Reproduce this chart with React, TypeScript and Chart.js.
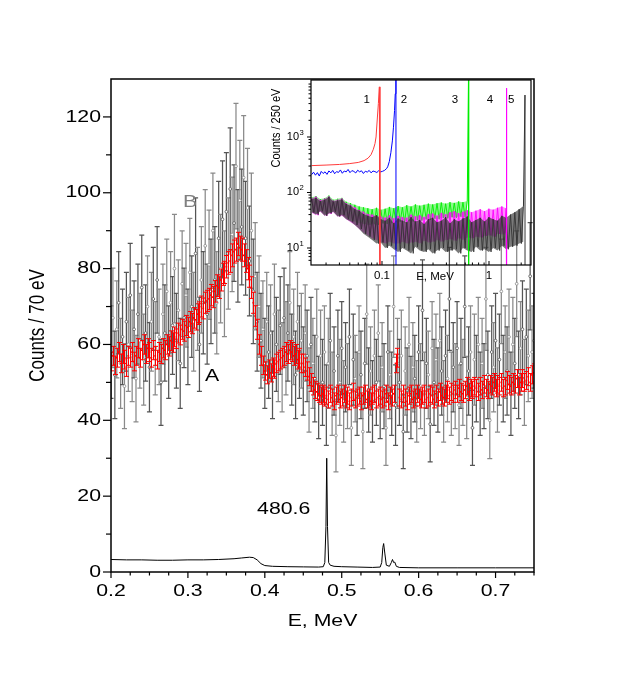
import React, { useEffect, useRef } from "react";
import { Chart, registerables } from "chart.js";

Chart.register(...registerables);

const W = 621;
const H = 687;
const FONT = '"Liberation Sans", Arial, Helvetica, sans-serif';
const SX = 1.25;

// ---------------- main plot data ----------------
const E_START = 0.2;
const E_STEP = 0.0025;

// series B (grey, open circles)
const B_COUNTS = [
  58, 67, 52, 64, 71, 55, 62, 49, 66, 60,
  73, 57, 64, 51, 68, 61, 75, 56, 63, 70,
  54, 66, 72, 59, 77, 62, 50, 68, 63, 74,
  58, 71, 65, 80, 61, 69, 55, 76, 67, 73,
  62, 79, 70, 66, 84, 72, 60, 77, 71, 86,
  68, 81, 74, 90, 77, 71, 88, 80, 93, 76,
  95, 84, 101, 89, 92, 107, 86, 98, 91, 104,
  88, 96, 82, 90, 74, 78, 66, 70, 61, 64,
  55, 66, 58, 63, 52, 68, 60, 57, 65, 54,
  67, 59, 63, 71, 56, 62, 52, 66, 58, 61,
  53, 63, 57, 48, 60, 55, 51, 62, 46, 57,
  50, 58, 44, 55, 61, 47, 53, 36, 57, 50,
  59, 45, 54, 49, 62, 38, 56, 51, 47, 58,
  52, 37, 55, 68, 48, 53, 45, 57, 50, 63,
  46, 54, 49, 38, 58, 52, 47, 70, 44, 55,
  50, 57, 37, 53, 48, 60, 46, 54, 51, 45,
  58, 49, 69, 47, 55, 52, 39, 59, 50, 56,
  48, 61, 53, 45, 57, 51, 72, 47, 54, 49,
  59, 44, 55, 50, 70, 46, 53, 58, 38, 56,
  51, 60, 47, 55, 49, 72, 52, 40, 58, 54,
  61, 48, 56, 74, 51, 58, 53, 62, 47, 60,
  55, 76, 52, 59, 64, 50, 62, 57, 78, 58,
  61,
];

// series A (red)
const A_COUNTS = [
  55.5, 57, 54.5, 56.5, 58, 55, 57.5, 56, 54, 57,
  56.5, 58, 55.5, 57, 59, 56.5, 58.5, 60, 57.5, 59,
  58, 56.5, 58.5, 57, 56, 58, 57.5, 59, 58.5, 60,
  59.5, 61, 60.5, 62, 61.5, 63, 62.5, 64, 63.5, 65,
  64.5, 66, 65.5, 67, 66.5, 68, 68.5, 70, 69.5, 71,
  71.5, 72, 73, 72.5, 74, 75.5, 75, 77, 78.5, 79,
  80.5, 81.5, 82, 83.5, 84.5, 85, 86.5, 85.5, 85, 83.5,
  82, 80, 78, 75, 71, 67.5, 64, 60, 57, 54.5,
  53, 52, 53.5, 52.5, 54, 53.5, 55, 55.5, 56, 56.5,
  57, 58, 57.5, 58.5, 58, 57, 57.5, 56, 56.5, 55,
  55, 54, 53, 51.5, 50, 49, 48, 47.5, 47, 46.5,
  47, 46, 46.5, 45.5, 47, 46, 45, 46.5, 47, 45.5,
  46, 47, 45.5, 46.5, 45, 46, 47.5, 45.5, 46, 46.5,
  45, 46.5, 47, 45.5, 46, 45, 46.5, 47, 45.5, 46,
  46.5, 45.5, 46, 47, 45, 46.5, 46, 47, 55, 56.5,
  46, 45.5, 47, 46, 45, 46.5, 47, 45.5, 46, 47,
  46, 45.5, 46.5, 47, 45.5, 46, 47, 46.5, 45.5, 47,
  46, 47.5, 46.5, 46, 47, 48, 46.5, 47.5, 47, 48,
  47, 48.5, 47.5, 47, 48, 49, 47.5, 48.5, 48, 49,
  48.5, 47.5, 49, 48, 49.5, 48.5, 48, 49.5, 49, 50,
  48.5, 49.5, 49, 50, 48.5, 49, 50.5, 49.5, 49, 50,
  49.5, 51, 49, 50, 51, 50, 50.5, 51.5, 50, 52,
  52.5,
];

const B_ERR_SCALE = 1.6;
const A_ERR_SCALE = 0.33;

// reference (480.6 keV) spectrum, black line
const REF_E = [
  0.2, 0.22, 0.24, 0.26, 0.28, 0.3, 0.32, 0.34, 0.36, 0.37, 0.38, 0.385, 0.39, 0.395,
  0.4, 0.41, 0.43, 0.45, 0.47, 0.476, 0.478, 0.4795, 0.4805, 0.4815, 0.483, 0.485,
  0.49, 0.5, 0.52, 0.54, 0.55, 0.552, 0.5535, 0.5545, 0.556, 0.558, 0.562, 0.5645,
  0.566, 0.5675, 0.569, 0.571, 0.575, 0.6, 0.65, 0.7, 0.75,
];
const REF_Y = [
  3.3, 3.2, 3.2, 3.1, 3.1, 3.2, 3.2, 3.3, 3.5, 3.7, 3.9, 3.8, 3.2, 2.2,
  1.7, 1.5, 1.4, 1.35, 1.3, 1.4, 2.5, 12, 30, 12, 2.5, 1.8,
  1.5, 1.4, 1.3, 1.2, 1.3, 2.5, 6.5, 7.5, 5, 1.8, 1.5, 2.5,
  3.3, 2.5, 2.6, 1.5, 1.2, 1.1, 1.1, 1.1, 1.1,
];

const X_MAJOR = [0.2, 0.3, 0.4, 0.5, 0.6, 0.7];
const X_LABELS = ["0.2", "0.3", "0.4", "0.5", "0.6", "0.7"];
const X_MINOR = [0.225, 0.25, 0.275, 0.325, 0.35, 0.375, 0.425, 0.45, 0.475, 0.525, 0.55, 0.575, 0.625, 0.65, 0.675, 0.725, 0.75];
const Y_MAJOR = [0, 20, 40, 60, 80, 100, 120];
const Y_LABELS = ["0", "20", "40", "60", "80", "100", "120"];
const Y_MINOR = [10, 30, 50, 70, 90, 110];

const B_DARK = "#555555";
const B_LIGHT = "#8a8a8a";
const A_COLOR = "#ff0000";

// ---------------- inset data ----------------
const INSET_X0 = 0.022;
const INSET_X1 = 2.1;
const INSET_N = 50;
const INSET_X = Array.from({ length: INSET_N }, (_, i) => INSET_X0 * Math.pow(INSET_X1 / INSET_X0, i / (INSET_N - 1)));

// spectrum 5 (dark grey): upper / lower edges of the noise band
const GRAY5_HI = [
  76, 80, 70, 74, 83, 69, 72, 75, 62, 58,
  50, 47, 41, 38, 36, 39, 33, 31, 35, 28,
  34, 31, 29, 36, 30, 32, 27, 33, 35, 29,
  31, 36, 28, 33, 30, 34, 37, 29, 32, 35,
  30, 36, 33, 31, 38, 35, 40, 44, 50, 57,
];
const GRAY5_LO = [
  44, 40, 46, 38, 42, 45, 37, 39, 33, 30,
  26, 22, 18, 16, 14, 12, 12.5, 10, 11, 9.5,
  8.5, 10, 9, 8, 10.5, 9, 8.5, 9.5, 8, 9,
  10, 8.5, 9, 9.5, 8, 10, 9, 8.5, 10.5, 9,
  9.5, 8.5, 10, 9, 11, 9.5, 10.5, 11, 12, 13,
];
const GRAY5_PEAK_E = [2.17, 2.172];
const GRAY5_PEAK_Y = [5700, 1];

// spectrum 4 (magenta)
const MAG4_HI = [
  79, 84, 73, 77, 85, 71, 74, 78, 64, 60,
  54, 48, 45, 41, 40, 38, 37, 35, 39, 34,
  38, 36, 35, 40, 37, 39, 36, 41, 42, 38,
  43, 40, 44, 46, 42, 45, 48, 44, 47, 50,
  46, 51, 49, 53, 56, 52,
];
const MAG4_LO = [
  43, 39, 45, 38, 41, 44, 37, 38, 33, 29,
  26, 22, 19, 17, 15, 14, 13, 12, 13, 12,
  12, 13, 12, 12.5, 13, 12, 13.5, 12.5, 13, 14,
  13, 14, 14.5, 13.5, 15, 14, 15.5, 15, 16, 15.5,
  16.5, 17, 16, 18, 17.5, 19,
];
const MAG4_PEAK_E = [1.46, 1.462];
const MAG4_PEAK_Y = [7600, 1];

// spectrum 3 (green)
const GREEN3_HI = [
  82, 86, 76, 79, 88, 74, 77, 80, 68, 64,
  60, 56, 54, 52, 50, 53, 49, 51, 55, 52,
  57, 54, 59, 56, 61, 58, 60, 63, 61, 64,
  66, 63, 67, 65, 69, 67, 70,
];
const GREEN3_LO = [
  45, 41, 47, 40, 43, 46, 39, 40, 35, 31,
  30, 28, 27, 26, 27, 26, 28, 27, 28, 29,
  30, 29, 31, 30, 32, 31, 33, 32, 34, 33,
  35, 34, 36, 35, 37, 36, 38,
];
const GREEN3_PEAK_E = [0.645, 0.6455];
const GREEN3_PEAK_Y = [20000, 1];

// spectrum 2 (blue)
const BLUE2_X1 = 0.11;
const BLUE2 = [
  210, 232, 205, 228, 198, 240, 220, 236, 212, 245,
  226, 250, 218, 238, 230, 255, 222, 244, 235, 260,
  228, 248, 240, 225, 252, 236, 246, 220, 242, 233,
  250, 226, 244, 238, 229, 247, 235, 241, 250, 268,
];
const BLUE2_X = BLUE2.map((_, i) => INSET_X0 * Math.pow(BLUE2_X1 / INSET_X0, i / (BLUE2.length - 1)));
const BLUE2_END_E = [0.113, 0.117, 0.121, 0.125, 0.128, 0.131, 0.133, 0.135, 0.1352];
const BLUE2_END_Y = [290, 360, 520, 850, 1500, 3000, 6000, 12000, 1];

// spectrum 1 (red)
const RED1_E = [0.022, 0.03, 0.04, 0.05, 0.06, 0.068, 0.074, 0.079, 0.083, 0.086, 0.088, 0.0905, 0.0925, 0.0945, 0.0957];
const RED1_Y = [305, 312, 320, 332, 348, 375, 415, 480, 600, 760, 1000, 2200, 4000, 8000, 1];

const INSET_X_MAJOR = [0.1, 1];
const INSET_X_LABELS = ["0.1", "1"];
const INSET_X_MINOR = [0.03, 0.04, 0.05, 0.06, 0.07, 0.08, 0.09, 0.2, 0.3, 0.4, 0.5, 0.6, 0.7, 0.8, 0.9, 2];
const INSET_Y_MAJOR = [10, 100, 1000];
const INSET_Y_EXP = ["1", "2", "3"];
const INSET_Y_MINOR = [6, 7, 8, 9, 20, 30, 40, 50, 60, 70, 80, 90, 200, 300, 400, 500, 600, 700, 800, 900, 2000, 3000, 4000, 5000, 6000, 7000, 8000, 9000];
const INSET_TAGS = ["1", "2", "3", "4", "5"];
const INSET_TAG_E = [0.072, 0.16, 0.48, 1.02, 1.61];
const INSET_TAG_Y = 4640;

// ---------------- helpers ----------------
function txt(
  ctx: CanvasRenderingContext2D,
  s: string,
  x: number,
  y: number,
  size: number,
  color: string,
  align: CanvasTextAlign = "center",
  sx: number = SX,
  rot: boolean = false
) {
  ctx.save();
  ctx.translate(x, y);
  ctx.scale(sx, 1);
  if (rot) ctx.rotate(-Math.PI / 2);
  ctx.font = `${size}px ${FONT}`;
  ctx.fillStyle = color;
  ctx.textAlign = align;
  ctx.textBaseline = "middle";
  ctx.fillText(s, 0, 0);
  ctx.restore();
}

function seg(ctx: CanvasRenderingContext2D, x1: number, y1: number, x2: number, y2: number) {
  ctx.beginPath();
  ctx.moveTo(x1, y1);
  ctx.lineTo(x2, y2);
  ctx.stroke();
}

const mainPlugin = {
  id: "mainDecor",
  beforeDatasetDraw(chart: any, args: any) {
    const ds = chart.data.datasets[args.index];
    const kind = ds.label;
    if (kind !== "A" && kind !== "B") return;
    const xs = chart.scales.x;
    const ys = chart.scales.y;
    const ctx: CanvasRenderingContext2D = chart.ctx;
    const vals = kind === "B" ? B_COUNTS : A_COUNTS;
    const k = kind === "B" ? B_ERR_SCALE : A_ERR_SCALE;
    const cap = 2.5;
    const a = chart.chartArea;
    ctx.save();
    ctx.beginPath();
    ctx.rect(a.left, a.top, a.right - a.left, a.bottom - a.top);
    ctx.clip();
    ctx.lineWidth = kind === "B" ? 1.25 : 1;
    vals.forEach((v: number, i: number) => {
      const e = E_START + E_STEP * i;
      const err = k * Math.sqrt(v);
      const px = kind === "B" ? xs.getPixelForValue(e) : Math.round(xs.getPixelForValue(e)) + 0.5;
      const y1 = ys.getPixelForValue(v + err);
      const y2 = ys.getPixelForValue(v - err);
      ctx.strokeStyle = kind === "B" ? (i % 2 ? B_LIGHT : B_DARK) : A_COLOR;
      ctx.beginPath();
      ctx.moveTo(px, y1);
      ctx.lineTo(px, y2);
      ctx.moveTo(px - cap, y1);
      ctx.lineTo(px + cap, y1);
      ctx.moveTo(px - cap, y2);
      ctx.lineTo(px + cap, y2);
      ctx.stroke();
    });
    ctx.restore();
  },
  afterDraw(chart: any) {
    const ctx: CanvasRenderingContext2D = chart.ctx;
    const xs = chart.scales.x;
    const ys = chart.scales.y;
    const { left, right, top, bottom } = chart.chartArea;
    ctx.save();
    ctx.strokeStyle = "#000";
    ctx.lineWidth = 1.5;
    ctx.strokeRect(left, top, right - left, bottom - top);
    ctx.lineWidth = 1.2;
    X_MAJOR.forEach((v) => {
      const p = xs.getPixelForValue(v);
      seg(ctx, p, bottom, p, bottom + 6);
    });
    X_MINOR.forEach((v) => {
      const p = xs.getPixelForValue(v);
      seg(ctx, p, bottom, p, bottom + 3.5);
    });
    Y_MAJOR.forEach((v) => {
      const p = ys.getPixelForValue(v);
      seg(ctx, left - 8, p, left, p);
    });
    Y_MINOR.forEach((v) => {
      const p = ys.getPixelForValue(v);
      seg(ctx, left - 5, p, left, p);
    });
    X_MAJOR.forEach((v, i) => {
      txt(ctx, X_LABELS[i], xs.getPixelForValue(v), bottom + 19, 17, "#000");
    });
    Y_MAJOR.forEach((v, i) => {
      txt(ctx, Y_LABELS[i], left - 10, ys.getPixelForValue(v), 17, "#000", "right");
    });
    txt(ctx, "E, MeV", (left + right) / 2, bottom + 49, 17, "#000");
    txt(ctx, "Counts / 70 eV", 38, (top + bottom) / 2, 17, "#000", "center", SX, true);
    txt(ctx, "B", xs.getPixelForValue(0.3027), ys.getPixelForValue(97.4), 17, "#808080");
    txt(ctx, "A", xs.getPixelForValue(0.3313), ys.getPixelForValue(51.7), 17, "#000");
    txt(ctx, "480.6", xs.getPixelForValue(0.4245), ys.getPixelForValue(16.6), 17, "#000");
    ctx.restore();
  },
};

const insetPlugin = {
  id: "insetDecor",
  afterDraw(chart: any) {
    const ctx: CanvasRenderingContext2D = chart.ctx;
    const xs = chart.scales.x;
    const ys = chart.scales.y;
    const { left, right, top, bottom } = chart.chartArea;
    ctx.save();
    ctx.strokeStyle = "#000";
    ctx.lineWidth = 1.2;
    ctx.strokeRect(left, top, right - left, bottom - top);
    ctx.lineWidth = 1;
    INSET_X_MAJOR.forEach((v) => {
      const p = xs.getPixelForValue(v);
      seg(ctx, p, bottom, p, bottom - 4);
    });
    INSET_X_MINOR.forEach((v) => {
      const p = xs.getPixelForValue(v);
      seg(ctx, p, bottom, p, bottom - 2.5);
    });
    INSET_Y_MAJOR.forEach((v) => {
      const p = ys.getPixelForValue(v);
      seg(ctx, left - 4, p, left, p);
    });
    INSET_Y_MINOR.forEach((v) => {
      const p = ys.getPixelForValue(v);
      seg(ctx, left - 2.5, p, left, p);
    });
    INSET_X_MAJOR.forEach((v, i) => {
      txt(ctx, INSET_X_LABELS[i], xs.getPixelForValue(v), bottom + 11, 10, "#000", "center", 1.15);
    });
    INSET_Y_MAJOR.forEach((v, i) => {
      const p = ys.getPixelForValue(v);
      txt(ctx, "10", left - 12, p, 10, "#000", "right", 1.1);
      txt(ctx, INSET_Y_EXP[i], left - 11.5, p - 4, 7, "#000", "left", 1.1);
    });
    txt(ctx, "E, MeV", 435, bottom + 12, 10, "#000", "center", 1.15);
    txt(ctx, "Counts / 250 eV", 277, 128, 11, "#000", "center", 1.1, true);
    INSET_TAGS.forEach((t, i) => {
      txt(ctx, t, xs.getPixelForValue(INSET_TAG_E[i]), ys.getPixelForValue(INSET_TAG_Y), 10, "#000", "center", 1.15);
    });
    ctx.restore();
  },
};

function pts(xsArr: number[], ysArr: number[]) {
  return ysArr.map((y, i) => ({ x: xsArr[i], y }));
}

// noisy trace running between the upper and lower band edges
function zig(hi: number[], lo: number[]) {
  const r = Math.sqrt(INSET_X[1] / INSET_X[0]);
  const out: { x: number; y: number }[] = [];
  hi.forEach((h, i) => {
    out.push({ x: INSET_X[i], y: h });
    if (i < hi.length - 1) out.push({ x: INSET_X[i] * r, y: lo[i] });
  });
  return out;
}

export default function App() {
  const mainRef = useRef<HTMLCanvasElement | null>(null);
  const insetRef = useRef<HTMLCanvasElement | null>(null);

  useEffect(() => {
    const eB = B_COUNTS.map((_, i) => E_START + E_STEP * i);
    const eA = A_COUNTS.map((_, i) => E_START + E_STEP * i);

    const main = new Chart(mainRef.current as HTMLCanvasElement, {
      type: "line",
      data: {
        datasets: [
          {
            label: "ref",
            data: pts(REF_E, REF_Y),
            borderColor: "#000",
            borderWidth: 1,
            pointRadius: 0,
            tension: 0,
            order: 0,
          },
          {
            label: "A",
            data: pts(eA, A_COUNTS),
            showLine: false,
            pointRadius: 1.2,
            pointStyle: "rect",
            pointBackgroundColor: A_COLOR,
            pointBorderColor: A_COLOR,
            pointBorderWidth: 0,
            order: 1,
          },
          {
            label: "B",
            data: pts(eB, B_COUNTS),
            showLine: false,
            pointRadius: 1.4,
            pointBackgroundColor: "#ffffff",
            pointBorderColor: (c: any) => (c.dataIndex % 2 ? B_LIGHT : B_DARK),
            pointBorderWidth: 0.8,
            order: 2,
          },
        ],
      } as any,
      options: {
        animation: false,
        responsive: false,
        devicePixelRatio: 1,
        events: [],
        layout: { padding: { left: 111, right: W - 534, top: 79, bottom: H - 572 } },
        plugins: { legend: { display: false }, tooltip: { enabled: false } },
        scales: {
          x: { type: "linear", min: 0.2, max: 0.75, display: false },
          y: { type: "linear", min: 0, max: 130, display: false },
        },
      } as any,
      plugins: [mainPlugin],
    });

    const lineDs = (label: string, data: any[], color: string, order: number, width = 1) => ({
      label,
      data,
      borderColor: color,
      borderWidth: width,
      pointRadius: 0,
      tension: 0,
      order,
      fill: false,
    });
    const edgeDs = (label: string, data: any[], fillColor: string, order: number, fill: any) => ({
      label,
      data,
      borderColor: "rgba(0,0,0,0)",
      backgroundColor: fillColor,
      borderWidth: 0,
      pointRadius: 0,
      tension: 0,
      order,
      fill,
    });

    const nG = GRAY5_HI.length;
    const nM = MAG4_HI.length;
    const nGr = GREEN3_HI.length;
    const grayPeak = pts([INSET_X[nG - 1]], [GRAY5_HI[nG - 1]]).concat(pts(GRAY5_PEAK_E, GRAY5_PEAK_Y));
    const magPeak = pts([INSET_X[nM - 1]], [MAG4_HI[nM - 1]]).concat(pts(MAG4_PEAK_E, MAG4_PEAK_Y));
    const greenPeak = pts([INSET_X[nGr - 1]], [GREEN3_HI[nGr - 1]]).concat(pts(GREEN3_PEAK_E, GREEN3_PEAK_Y));
    const blue = pts(BLUE2_X, BLUE2).concat(pts(BLUE2_END_E, BLUE2_END_Y));
    const red = pts(RED1_E, RED1_Y);

    const GRAY_C = "#333333";
    const MAG_C = "#ff00ff";
    const GREEN_C = "#00ee00";

    const inset = new Chart(insetRef.current as HTMLCanvasElement, {
      type: "line",
      data: {
        datasets: [
          lineDs("5p", grayPeak, GRAY_C, 0),
          lineDs("4p", magPeak, MAG_C, 0),
          lineDs("3p", greenPeak, GREEN_C, 0),
          lineDs("1", red, "#ff3b3b", 1),
          lineDs("2", blue, "#0000ff", 2),
          lineDs("5z", zig(GRAY5_HI, GRAY5_LO), GRAY_C, 3, 0.9),
          edgeDs("5lo", pts(INSET_X, GRAY5_LO), "rgba(50,50,50,0.65)", 4, false),
          edgeDs("5hi", pts(INSET_X, GRAY5_HI), "rgba(50,50,50,0.65)", 4, "-1"),
          lineDs("4z", zig(MAG4_HI, MAG4_LO), MAG_C, 5, 0.9),
          edgeDs("4lo", pts(INSET_X, MAG4_LO), "rgba(255,0,255,0.45)", 6, false),
          edgeDs("4hi", pts(INSET_X, MAG4_HI), "rgba(255,0,255,0.45)", 6, "-1"),
          lineDs("3z", zig(GREEN3_HI, GREEN3_LO), GREEN_C, 7, 0.9),
          edgeDs("3lo", pts(INSET_X, GREEN3_LO), "rgba(0,238,0,0.45)", 8, false),
          edgeDs("3hi", pts(INSET_X, GREEN3_HI), "rgba(0,238,0,0.45)", 8, "-1"),
        ],
      } as any,
      options: {
        animation: false,
        responsive: false,
        devicePixelRatio: 1,
        events: [],
        layout: { padding: { left: 311, right: W - 531, top: 80, bottom: H - 265 } },
        plugins: { legend: { display: false }, tooltip: { enabled: false } },
        scales: {
          x: { type: "logarithmic", min: 0.0217, max: 2.47, display: false },
          y: { type: "logarithmic", min: 4.94, max: 10640, display: false },
        },
      } as any,
      plugins: [insetPlugin],
    });

    return () => {
      main.destroy();
      inset.destroy();
    };
  }, []);

  return (
    <div style={{ position: "absolute", left: 0, top: 0, width: W, height: H, background: "#fff" }}>
      <canvas ref={mainRef} width={W} height={H} style={{ position: "absolute", left: 0, top: 0 }} />
      <canvas ref={insetRef} width={W} height={H} style={{ position: "absolute", left: 0, top: 0 }} />
    </div>
  );
}
